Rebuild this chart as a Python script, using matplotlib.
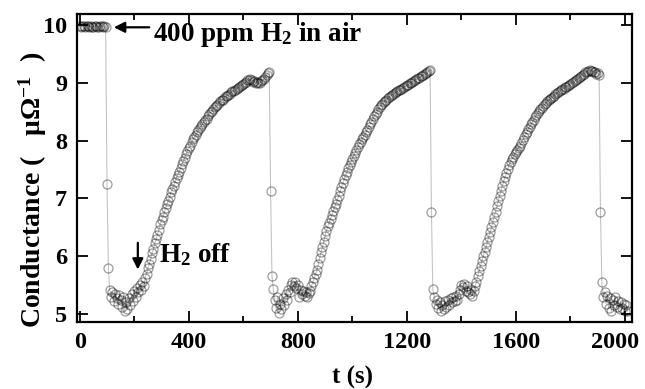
import numpy as np
import matplotlib
matplotlib.use("Agg")
import matplotlib.pyplot as plt
from matplotlib.transforms import ScaledTranslation

plt.rcParams["font.family"] = ["Liberation Serif", "DejaVu Serif"]
plt.rcParams["font.weight"] = "bold"
plt.rcParams["mathtext.fontset"] = "custom"
plt.rcParams["mathtext.rm"] = "Liberation Serif:bold"
plt.rcParams["mathtext.it"] = "Liberation Serif:italic:bold"
plt.rcParams["mathtext.bf"] = "Liberation Serif:bold"

# sensor sampled every 5 s, starting at t = 0
SAMPLE_S = 5

conductance = [
    # 0-95 s, H2 on, baseline
    9.98, 9.97, 9.99, 9.98, 9.96, 9.98, 9.99, 9.97, 9.98, 9.96,
    9.97, 9.99, 9.98, 9.97, 9.96, 9.98, 9.99, 9.97, 9.98, 9.96,
    # 100-110 s, drop
    7.25, 5.80, 5.42,
    # 115-245 s
    5.30, 5.38, 5.22, 5.35, 5.28, 5.18, 5.33, 5.25, 5.12, 5.30,
    5.05, 5.20, 5.08, 5.28, 5.15, 5.35, 5.22, 5.40, 5.30, 5.45,
    5.38, 5.50, 5.42, 5.55, 5.48, 5.62, 5.70,
    # 250-690 s, recovery 1
    5.80, 5.86, 5.95, 6.05, 6.12, 6.22, 6.30, 6.37, 6.46, 6.55,
    6.62, 6.68, 6.76, 6.84, 6.90, 6.96, 7.03, 7.11, 7.16, 7.22,
    7.29, 7.36, 7.41, 7.46, 7.53, 7.60, 7.64, 7.70, 7.76, 7.82,
    7.87, 7.91, 7.97, 8.02, 8.06, 8.09, 8.14, 8.19, 8.22, 8.25,
    8.29, 8.33, 8.36, 8.38, 8.42, 8.46, 8.49, 8.51, 8.54, 8.58,
    8.60, 8.62, 8.65, 8.68, 8.70, 8.71, 8.74, 8.77, 8.78, 8.79,
    8.81, 8.84, 8.85, 8.86, 8.88, 8.90, 8.91, 8.93, 8.95, 8.97,
    8.98, 9.00, 9.02, 9.05, 9.04, 9.06, 9.05, 9.02, 9.03, 9.00,
    9.02, 8.99, 9.00, 9.03, 9.04, 9.06, 9.10, 9.13, 9.17,
    # 695-710 s, drop
    9.18, 7.12, 5.66, 5.43,
    # 715-865 s
    5.25, 5.10, 5.30, 5.02, 5.18, 5.08, 5.28, 5.15, 5.35, 5.25,
    5.42, 5.38, 5.50, 5.55, 5.48, 5.56, 5.45, 5.50, 5.30, 5.42,
    5.35, 5.40, 5.32, 5.38, 5.30, 5.36, 5.40, 5.48, 5.55, 5.62,
    5.70,
    # 870-1285 s, recovery 2
    5.76, 5.86, 5.97, 6.07, 6.16, 6.25, 6.35, 6.44, 6.52, 6.58,
    6.65, 6.72, 6.78, 6.85, 6.91, 6.98, 7.05, 7.12, 7.19, 7.26,
    7.33, 7.40, 7.46, 7.52, 7.58, 7.63, 7.69, 7.74, 7.79, 7.84,
    7.89, 7.94, 7.98, 8.02, 8.06, 8.10, 8.14, 8.19, 8.23, 8.28,
    8.33, 8.37, 8.42, 8.46, 8.50, 8.54, 8.58, 8.61, 8.64, 8.66,
    8.69, 8.71, 8.73, 8.75, 8.77, 8.79, 8.80, 8.82, 8.84, 8.85,
    8.87, 8.88, 8.90, 8.91, 8.93, 8.94, 8.96, 8.97, 8.99, 9.00,
    9.02, 9.03, 9.05, 9.06, 9.08, 9.09, 9.11, 9.12, 9.14, 9.15,
    9.17, 9.18, 9.20, 9.22,
    # 1290-1295 s, drop
    6.76, 5.43,
    # 1300-1455 s
    5.30, 5.18, 5.25, 5.10, 5.20, 5.05, 5.15, 5.08, 5.22, 5.12,
    5.25, 5.15, 5.28, 5.20, 5.30, 5.22, 5.32, 5.25, 5.35, 5.42,
    5.50, 5.46, 5.52, 5.40, 5.48, 5.38, 5.35, 5.42, 5.32, 5.40,
    5.48, 5.56,
    # 1460-1905 s, recovery 3
    5.66, 5.75, 5.83, 5.92, 6.00, 6.08, 6.16, 6.25, 6.33, 6.41,
    6.50, 6.59, 6.68, 6.77, 6.87, 6.96, 7.05, 7.13, 7.22, 7.30,
    7.37, 7.44, 7.51, 7.58, 7.63, 7.68, 7.72, 7.76, 7.80, 7.84,
    7.88, 7.91, 7.96, 8.01, 8.06, 8.11, 8.15, 8.20, 8.24, 8.28,
    8.32, 8.36, 8.40, 8.44, 8.47, 8.51, 8.54, 8.57, 8.60, 8.63,
    8.65, 8.68, 8.70, 8.72, 8.74, 8.76, 8.78, 8.80, 8.82, 8.84,
    8.86, 8.87, 8.89, 8.90, 8.92, 8.93, 8.95, 8.96, 8.98, 9.00,
    9.01, 9.03, 9.05, 9.06, 9.08, 9.10, 9.12, 9.14, 9.16, 9.18,
    9.19, 9.21, 9.22, 9.20, 9.21, 9.18, 9.19, 9.16, 9.17, 9.14,
    # 1910-1920 s, drop
    6.76, 5.55, 5.30,
    # 1925-2010 s
    5.38, 5.18, 5.32, 5.10, 5.28, 5.05, 5.25, 5.15, 5.30, 5.12,
    5.22, 5.08, 5.20, 5.10, 5.18, 5.06, 5.15, 5.05,
]

time_s = np.arange(len(conductance)) * SAMPLE_S

x_ticks = [0, 400, 800, 1200, 1600, 2000]
y_ticks = [5, 6, 7, 8, 9, 10]

fig = plt.figure(figsize=(6.45, 3.89), dpi=100)
ax = fig.add_axes([0.119, 0.172, 0.861, 0.792])

ax.plot(time_s, conductance, color="#c4c4c4", lw=0.8, zorder=1)
ax.plot(time_s, conductance, ls="none", marker="o", ms=6.5,
        mfc="none", mec=(0, 0, 0, 0.38), mew=0.9, zorder=2)

ax.set_xlim(-11, 2026)
ax.set_ylim(4.86, 10.19)
ax.set_xticks(x_ticks)
ax.set_xticks([200, 600, 1000, 1400, 1800], minor=True)
ax.set_yticks(y_ticks)

ax.tick_params(which="both", direction="in", top=True, right=True,
               labelsize=17.5, width=1.3, pad=7)
ax.tick_params(which="major", length=8)
ax.tick_params(which="minor", length=4.5)
for lab in ax.get_xticklabels() + ax.get_yticklabels():
    lab.set_fontweight("bold")
# pull the last x label in so it stays on the canvas
last = ax.get_xticklabels()[-1]
last.set_transform(last.get_transform()
                   + ScaledTranslation(-10 / 100, 0, fig.dpi_scale_trans))
for sp in ax.spines.values():
    sp.set_linewidth(1.6)

# annotations
ax.annotate("", xy=(115, 9.96), xytext=(265, 9.96),
            arrowprops=dict(arrowstyle="-|>", color="black", lw=1.6,
                            mutation_scale=16))
ax.text(268, 9.84, r"400 ppm H$_\mathrm{2}$ in air", fontsize=19.5,
        fontweight="bold", va="center", ha="left")

ax.annotate("", xy=(213, 5.72), xytext=(213, 6.28),
            arrowprops=dict(arrowstyle="-|>", color="black", lw=1.6,
                            mutation_scale=16))
ax.text(290, 6.03, r"H$_\mathrm{2}$ off", fontsize=19.5,
        fontweight="bold", va="center", ha="left")

fig.text(33 / 645, 1 - 190 / 389,
         "Conductance (   μΩ" + r"$^{\mathrm{-1}}$" + "  )",
         rotation=90, fontsize=20, fontweight="bold",
         ha="center", va="center")
fig.text(352 / 645, 1 - 377 / 389, "t (s)", fontsize=18,
         fontweight="bold", ha="center", va="center")

fig.savefig("out.png", dpi=100)
